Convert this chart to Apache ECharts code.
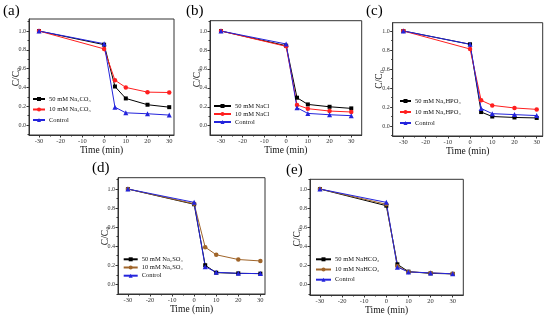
<!DOCTYPE html>
<html>
<head>
<meta charset="utf-8">
<script src="https://cdn.jsdelivr.net/npm/echarts@6/dist/echarts.min.js"></script>
<style>html,body{margin:0;padding:0;background:#fff}#c{width:550px;height:320px}</style>
</head>
<body>
<div id="c"></div>
<script>
// ---- data ----
const times = [-30, 0, 5, 10, 20, 30];
const xTicks = [-30, -20, -10, 0, 10, 20, 30];
const xMinorTicks = [-25, -15, -5, 5, 15, 25];
const yTicks = [0, 0.2, 0.4, 0.6, 0.8, 1.0];
const yMinorTicks = [-0.1, 0.1, 0.3, 0.5, 0.7, 0.9, 1.1];
const panelLabels = ['(a)', '(b)', '(c)', '(d)', '(e)'];
const names50 = ['50 mM Na₂CO₃', '50 mM NaCl', '50 mM Na₂HPO₄', '50 mM Na₂SO₄', '50 mM NaHCO₃'];
const names10 = ['10 mM Na₂CO₃', '10 mM NaCl', '10 mM Na₂HPO₄', '10 mM Na₂SO₄', '10 mM NaHCO₃'];
const controlName = 'Control';

const a50 = [1.0, 0.855, 0.41, 0.283, 0.216, 0.19];
const a10 = [1.0, 0.81, 0.477, 0.40, 0.35, 0.346];
const aCtl = [1.0, 0.865, 0.19, 0.13, 0.12, 0.106];

const b50 = [1.0, 0.845, 0.296, 0.225, 0.20, 0.183];
const b10 = [1.0, 0.838, 0.22, 0.18, 0.155, 0.145];
const bCtl = [1.0, 0.863, 0.19, 0.13, 0.116, 0.106];

const c50 = [1.0, 0.86, 0.147, 0.10, 0.09, 0.085];
const c10 = [1.0, 0.81, 0.27, 0.217, 0.19, 0.175];
const cCtl = [1.0, 0.86, 0.185, 0.13, 0.12, 0.11];

const d50 = [1.0, 0.84, 0.20, 0.122, 0.115, 0.112];
const d10 = [1.0, 0.845, 0.39, 0.31, 0.26, 0.245];
const dCtl = [1.0, 0.86, 0.185, 0.126, 0.115, 0.112];

const e50 = [1.0, 0.825, 0.21, 0.133, 0.115, 0.11];
const e10 = [1.0, 0.84, 0.19, 0.13, 0.12, 0.11];
const eCtl = [1.0, 0.86, 0.18, 0.13, 0.12, 0.11];

const panelData = [[a50, a10, aCtl], [b50, b10, bCtl], [c50, c10, cCtl], [d50, d10, dCtl], [e50, e10, eCtl]];

// ---- layout / style ----
const FONT = '"Liberation Serif", "Times New Roman", Times, serif';
const layout = [
  {left: 29, top: 19, width: 145, height: 116, xMin: -34.6, xMax: 32.2, yMin: -0.106, yMax: 1.128,
   lab: [3, 4], leg: {left: 32, top: 95.5, w: 12, gap: 3.5}},
  {left: 210, top: 20.7, width: 151.7, height: 114.3, xMin: -35.06, xMax: 34.8, yMin: -0.098, yMax: 1.109,
   lab: [186, 4], leg: {left: 213, top: 102.5, w: 17, gap: 1}},
  {left: 392.7, top: 22.7, width: 150, height: 113.3, xMin: -34.8, xMax: 32.7, yMin: -0.105, yMax: 1.087,
   lab: [366, 4], leg: {left: 399, top: 97.5, w: 11, gap: 4}},
  {left: 118, top: 177.7, width: 147, height: 116.3, xMin: -34.5, xMax: 32.1, yMin: -0.102, yMax: 1.119,
   lab: [92, 161], leg: {left: 122.7, top: 255.8, w: 14, gap: 1.2}},
  {left: 310, top: 179.3, width: 153.3, height: 115.7, xMin: -34.5, xMax: 34.8, yMin: -0.112, yMax: 1.102,
   lab: [286, 163], leg: {left: 315, top: 255.8, w: 15, gap: 3.2}}
];
const colors50 = '#000000';
const colors10 = ['#ff1f1f', '#ff1f1f', '#ff1f1f', '#a0652a', '#a0652a'];
const colorCtl = '#2424dc';

const grids = [], xAxes = [], yAxes = [], series = [], legends = [], graphics = [];
layout.forEach((L, i) => {
  grids.push({left: L.left, top: L.top, width: L.width, height: L.height, show: true,
    borderColor: '#333', borderWidth: 1, backgroundColor: 'transparent', containLabel: false});
  // main x axis
  xAxes.push({type: 'value', gridIndex: i, min: L.xMin, max: L.xMax, position: 'bottom',
    name: 'Time (min)', nameLocation: 'middle', nameGap: 10, nameMoveOverlap: false,
    nameTextStyle: {fontFamily: FONT, fontSize: 9.5, color: '#111'},
    axisLine: {show: true, onZero: false, lineStyle: {color: '#333', width: 1}},
    axisTick: {show: true, inside: false, length: 2.5, customValues: xTicks, lineStyle: {color: '#333'}},
    axisLabel: {show: true, customValues: xTicks, fontFamily: FONT, fontSize: 6.5, color: '#333', margin: 3},
    splitLine: {show: false}});
  // minor x ticks
  xAxes.push({type: 'value', gridIndex: i, min: L.xMin, max: L.xMax, position: 'bottom',
    axisLine: {show: false, onZero: false}, axisLabel: {show: false}, splitLine: {show: false},
    axisTick: {show: true, inside: false, length: 1.5, customValues: xMinorTicks, lineStyle: {color: '#333'}}});
  // main y axis
  yAxes.push({type: 'value', gridIndex: i, min: L.yMin, max: L.yMax, position: 'left',
    name: 'C/C₀', nameLocation: 'middle', nameGap: 8, nameRotate: 90, nameMoveOverlap: false,
    nameTextStyle: {fontFamily: FONT, fontSize: 9.5, color: '#111'},
    axisLine: {show: true, onZero: false, lineStyle: {color: '#333', width: 1}},
    axisTick: {show: true, inside: false, length: 2.5, customValues: yTicks, lineStyle: {color: '#333'}},
    axisLabel: {show: true, customValues: yTicks, fontFamily: FONT, fontSize: 6, color: '#333', margin: 3,
      formatter: v => v.toFixed(1)},
    splitLine: {show: false}});
  // minor y ticks
  yAxes.push({type: 'value', gridIndex: i, min: L.yMin, max: L.yMax, position: 'left',
    axisLine: {show: false, onZero: false}, axisLabel: {show: false}, splitLine: {show: false},
    axisTick: {show: true, inside: false, length: 1.5,
      customValues: yMinorTicks.filter(v => v >= L.yMin && v <= L.yMax), lineStyle: {color: '#333'}}});

  const [s50, s10, sCtl] = panelData[i];
  const mk = (name, vals, color, symbol, size) => ({
    type: 'line', name: name, xAxisIndex: 2 * i, yAxisIndex: 2 * i,
    data: times.map((t, k) => [t, vals[k]]),
    symbol: symbol, symbolSize: size, showSymbol: true,
    lineStyle: {color: color, width: 1}, itemStyle: {color: color},
    animation: false, silent: true
  });
  series.push(mk(names50[i], s50, colors50, 'rect', 4));
  series.push(mk(names10[i], s10, colors10[i], 'circle', 4.5));
  series.push(mk(controlName, sCtl, colorCtl, 'triangle', 5));

  legends.push({orient: 'vertical', left: L.leg.left, top: L.leg.top, padding: 0,
    itemWidth: L.leg.w, itemHeight: 5, itemGap: L.leg.gap,
    data: [names50[i], names10[i], controlName],
    textStyle: {fontFamily: FONT, fontSize: 6.5, color: '#111', padding: [0, 0, 0, -1]},
    selectedMode: false});

  graphics.push({type: 'text', left: L.lab[0], top: L.lab[1],
    style: {text: panelLabels[i], font: '15px ' + FONT, fill: '#000'}});
});

const chart = echarts.init(document.getElementById('c'), null, {renderer: 'canvas'});
chart.setOption({
  backgroundColor: '#fff',
  animation: false,
  grid: grids, xAxis: xAxes, yAxis: yAxes, series: series, legend: legends, graphic: graphics
});
</script>
</body>
</html>
